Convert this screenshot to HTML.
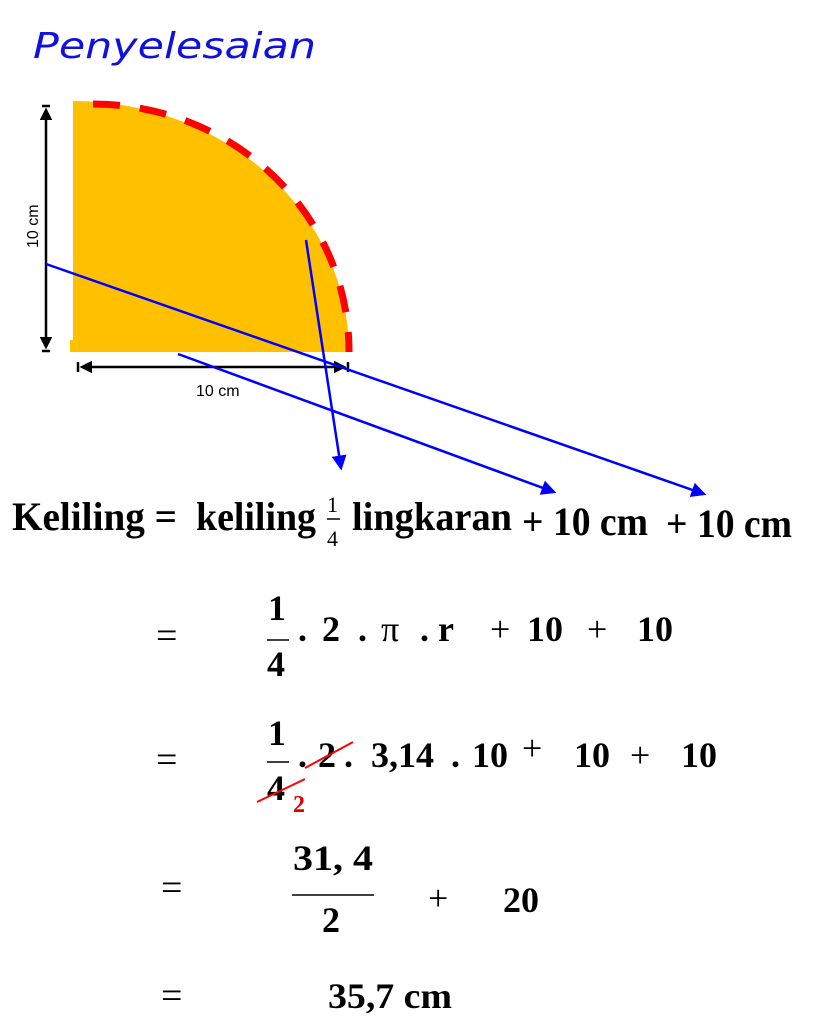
<!DOCTYPE html>
<html><head><meta charset="utf-8"><style>
html,body{margin:0;padding:0;background:#fff;}
svg{display:block;}
.m{font-family:"Liberation Serif",serif;font-weight:bold;fill:#000;}
.e{font-family:"Liberation Serif",serif;fill:#000;}
</style></head><body>
<svg width="827" height="1024" viewBox="0 0 827 1024" xmlns="http://www.w3.org/2000/svg">
<defs>
<marker id="bh" markerWidth="6" markerHeight="6" refX="5" refY="3" orient="auto" markerUnits="strokeWidth"><path d="M0,0 L6,3 L0,6 z" fill="#0000FF"/></marker>
<marker id="kh" markerWidth="5" markerHeight="5" refX="4" refY="2.5" orient="auto-start-reverse" markerUnits="strokeWidth"><path d="M0,0 L5,2.5 L0,5 z" fill="#000"/></marker>
</defs>
<text x="33" y="58" font-family="'DejaVu Sans',sans-serif" font-style="italic" font-size="36" fill="#1010E0" textLength="283" lengthAdjust="spacingAndGlyphs">Penyelesaian</text>

<path d="M73,101 A276,251 0 0 1 349,352 L73,352 Z" fill="#FFC000"/>
<rect x="70" y="340" width="5" height="12" fill="#FFC000"/>
<path d="M93,104 A256,247 0 0 1 349,352" fill="none" stroke="#FF0000" stroke-width="7" stroke-dasharray="27,20"/>

<line x1="46" y1="110" x2="46" y2="347" stroke="#000" stroke-width="2.5" marker-start="url(#kh)" marker-end="url(#kh)"/>
<line x1="42" y1="106" x2="50" y2="106" stroke="#000" stroke-width="2.5"/>
<line x1="42" y1="351" x2="50" y2="351" stroke="#000" stroke-width="2.5"/>
<line x1="82" y1="367" x2="344" y2="367" stroke="#000" stroke-width="2.5" marker-start="url(#kh)" marker-end="url(#kh)"/>
<line x1="78" y1="362" x2="78" y2="372" stroke="#000" stroke-width="2.5"/>
<line x1="348" y1="362" x2="348" y2="372" stroke="#000" stroke-width="2.5"/>
<text x="196" y="396" font-family="'Liberation Sans',sans-serif" font-size="16">10 cm</text>
<text transform="translate(38,248) rotate(-90)" font-family="'Liberation Sans',sans-serif" font-size="16">10 cm</text>

<line x1="46" y1="264" x2="704" y2="494" stroke="#0000FF" stroke-width="2.5" marker-end="url(#bh)"/>
<line x1="178" y1="354" x2="554" y2="492" stroke="#0000FF" stroke-width="2.5" marker-end="url(#bh)"/>
<line x1="306" y1="240" x2="341" y2="468" stroke="#0000FF" stroke-width="2.5" marker-end="url(#bh)"/>

<text class="m" x="12" y="530" font-size="40" textLength="165" lengthAdjust="spacingAndGlyphs">Keliling =</text>
<text class="m" x="196" y="530" font-size="40" textLength="120" lengthAdjust="spacingAndGlyphs">keliling</text>
<text class="e" x="327" y="512" font-size="22">1</text>
<line x1="327" y1="519" x2="340" y2="519" stroke="#000" stroke-width="1.5"/>
<text class="e" x="327" y="546" font-size="22">4</text>
<text class="m" x="352" y="530" font-size="40" textLength="160" lengthAdjust="spacingAndGlyphs">lingkaran</text>
<text class="m" x="522" y="535" font-size="40" textLength="126" lengthAdjust="spacingAndGlyphs">+ 10 cm</text>
<text class="m" x="666" y="537" font-size="40" textLength="126" lengthAdjust="spacingAndGlyphs">+ 10 cm</text>

<text class="e" x="156" y="648" font-size="38">=</text>
<text class="m" x="268" y="620" font-size="36">1</text>
<line x1="267" y1="640" x2="289" y2="640" stroke="#000" stroke-width="1.5"/>
<text class="m" x="267" y="676" font-size="36">4</text>
<text class="m" x="298" y="641" font-size="36">.</text><text class="m" x="322" y="641" font-size="36">2</text>
<text class="m" x="358" y="641" font-size="36">.</text><text class="e" x="381" y="641" font-size="36">π</text>
<text class="m" x="420" y="641" font-size="36">.</text><text class="m" x="438" y="641" font-size="36">r</text>
<text class="e" x="490" y="641" font-size="36">+</text><text class="m" x="527" y="641" font-size="36">10</text>
<text class="e" x="587" y="641" font-size="36">+</text><text class="m" x="637" y="641" font-size="36">10</text>

<text class="e" x="156" y="772" font-size="38">=</text>
<text class="m" x="268" y="745" font-size="36">1</text>
<line x1="267" y1="762" x2="289" y2="762" stroke="#000" stroke-width="1.5"/>
<text class="m" x="267" y="800" font-size="36">4</text>
<text class="m" x="298" y="767" font-size="36">.</text><text class="m" x="318" y="767" font-size="36">2</text>
<text class="m" x="344" y="767" font-size="36">.</text><text class="m" x="371" y="767" font-size="36">3,14</text>
<text class="m" x="451" y="767" font-size="36">.</text><text class="m" x="472" y="767" font-size="36">10</text>
<text class="e" x="522" y="760" font-size="36">+</text><text class="m" x="574" y="767" font-size="36">10</text>
<text class="e" x="630" y="767" font-size="36">+</text><text class="m" x="681" y="767" font-size="36">10</text>
<line x1="257" y1="802" x2="305" y2="779" stroke="#FF0000" stroke-width="2"/>
<line x1="305" y1="768" x2="353" y2="742" stroke="#FF0000" stroke-width="2"/>
<text class="m" x="293" y="812" font-size="24" style="fill:#E00000">2</text>

<text class="e" x="161" y="900" font-size="38">=</text>
<text class="m" x="293" y="870" font-size="36" textLength="80" lengthAdjust="spacingAndGlyphs">31, 4</text>
<line x1="292" y1="895" x2="374" y2="895" stroke="#000" stroke-width="1.5"/>
<text class="m" x="322" y="932" font-size="36">2</text>
<text class="e" x="428" y="910" font-size="36">+</text>
<text class="m" x="503" y="912" font-size="36">20</text>

<text class="e" x="161" y="1008" font-size="38">=</text>
<text class="m" x="328" y="1008" font-size="36" textLength="124" lengthAdjust="spacingAndGlyphs">35,7 cm</text>
</svg>
</body></html>
